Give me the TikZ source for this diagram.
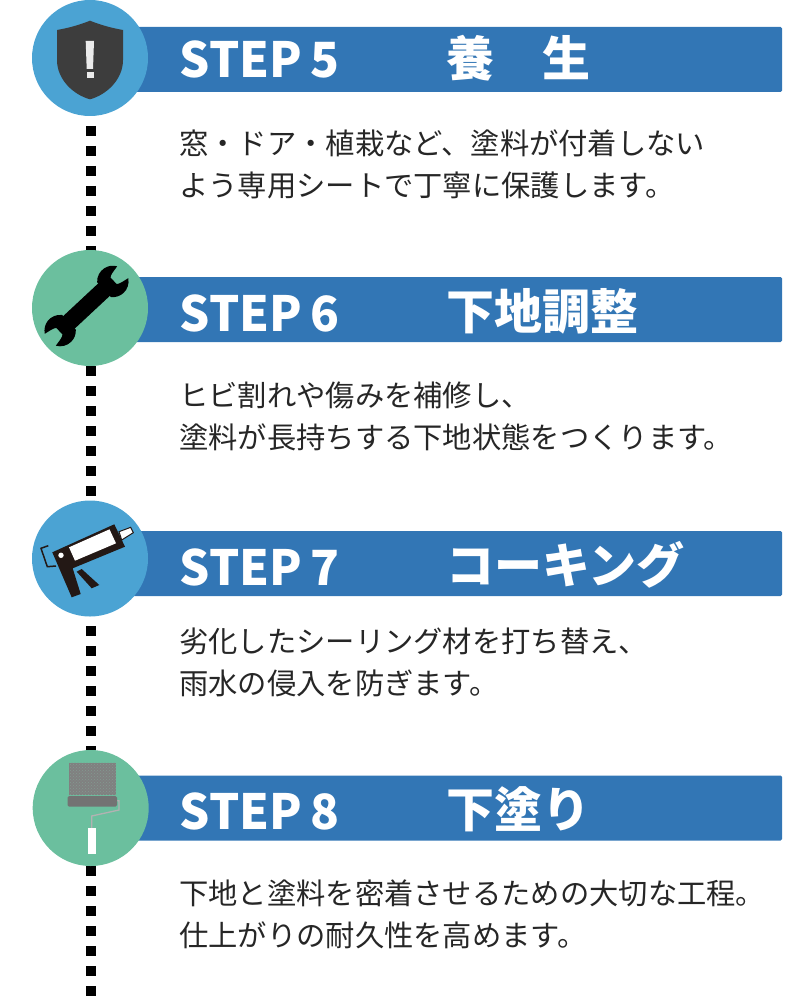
\documentclass[tikz,border=0pt]{standalone}
\usepackage{fontspec}
\setmainfont{Noto Sans CJK JP}
\newfontfamily\labelfont[FakeStretch=0.98]{Noto Sans CJK JP}
\usetikzlibrary{calc,patterns}
\definecolor{barblue}{HTML}{3276B5}
\definecolor{markblue}{HTML}{4BA3D3}
\definecolor{markgreen}{HTML}{6BBF9E}
\definecolor{gundark}{HTML}{231815}
\tikzset{
	bar/.style={fill=barblue,rounded corners=1.5},
	stepmark/.style={circle,inner sep=0,minimum size=116},
	steplabel/.style={anchor=base west,inner sep=0,text=white,font=\fontsize{48.5}{48.5}\labelfont\bfseries},
	steptitle/.style={anchor=base west,inner sep=0,text=white,font=\fontsize{48}{48}\selectfont\bfseries},
	body/.style={anchor=base west,inner sep=0,text=black!85,font=\fontsize{29.3}{29.3}\selectfont},
}
\begin{document}
\begin{tikzpicture}[x=1pt,y=-1pt]
		%%%%% START %%%%%
		\useasboundingbox (0,0) rectangle (800,1000);
		
		\coordinate (dottop) at (91,126);
		\coordinate (dotend) at (91,996);
		\draw[line width=10,dash pattern=on 10 off 10] (dottop) -- (dotend);
		
		\fill[bar] (130,27) rectangle (782,92);
		\fill[bar] (130,277) rectangle (782,342);
		\fill[bar] (130,531) rectangle (782,596);
		\fill[bar] (130,775.5) rectangle (782,840.5);
		
		\node[stepmark,fill=markblue] (mark5) at (90,58) {};
		\node[stepmark,fill=markgreen] (mark6) at (90,308) {};
		\node[stepmark,fill=markblue] (mark7) at (90,558.5) {};
		\node[stepmark,fill=markgreen] (mark8) at (90.7,808) {};
		
		% shield
		\fill[black!76] (90,20.7) .. controls (78,25.5) and (68,28) .. (57,30) -- (57,60)
			.. controls (57,80) and (74,95) .. (90,99.3) .. controls (106,95) and (123,80) .. (123,60)
			-- (123,30) .. controls (112,28) and (102,25.5) .. cycle;
		\fill[white!92!black] (85.7,41) -- (94,41) -- (93,69) -- (86.7,69) -- cycle;
		\fill[white!92!black] (86.5,72.3) rectangle (93.5,78.3);
		
		% wrench
		\begin{scope}[shift={(86.5,306)},rotate=43]
			\fill (-25,-8.5) rectangle (25,8.5);
			\fill (24,-10.1) arc (-140:-31:15.7) .. controls (44,-7) and (39,-6.5) .. (37,-4.5) -- (37,4.5) .. controls (39,6.5) and (44,7) .. (49.5,8.1) arc (31:140:15.7) -- cycle;
			\fill (-24,-10.1) arc (-40:-149:15.7) .. controls (-44,-7) and (-39,-6.5) .. (-37,-4.5) -- (-37,4.5) .. controls (-39,6.5) and (-44,7) .. (-49.5,8.1) arc (149:40:15.7) -- cycle;
		\end{scope}
		
		% caulking gun
		\draw[gundark,line width=1.5] (48.3,545.7) -- (41,548.3) -- (47.3,566.7) -- (56,566);
		\fill[gundark] (52.3,552.3) -- (114.3,524.3) -- (125,546.7) -- (72.7,568.3) -- (80.7,594) -- (71.7,597.3) -- cycle;
		\fill[gundark] (76.7,571.7) -- (81.7,569) -- (99.3,585) -- (91.7,588.3) -- cycle;
		\fill[white] (69,547.3) -- (109.5,529.3) -- (116,543.3) -- (75,560.7) -- cycle;
		\fill[white] (61,555.3) circle (2.7);
		\draw[gundark,fill=white,line width=1] (119,531.7) -- (130.7,527.3) -- (133.3,532.7) -- (121.7,540) -- cycle;
		
		% roller
		\fill[black!50] (69.3,762.7) rectangle (116,795);
		\fill[pattern=crosshatch dots,pattern color=markgreen!45!black!60] (69.3,762.7) rectangle (116,795);
		\draw[black!30,line width=1.3] (117,800.7) -- (119,800.7) -- (119,810) -- (91.7,816) -- (91.7,829);
		\fill[black!55,rounded corners=1.5] (67.7,796) rectangle (117,806.7);
		\fill[white] (88.3,828.3) rectangle (95.7,854.3);
		
		\node[steplabel] (label5) at (179.5,77.5) {STEP\,5};
		\node[steptitle] (title5) at (446,77) {養　生};
		\node[body] (text5a) at (179,154.5) {窓・ドア・植栽など、塗料が付着しない};
		\node[body] (text5b) at (179,196.5) {よう専用シートで丁寧に保護します。};
		
		\node[steplabel] (label6) at (179.5,331) {STEP\,6};
		\node[steptitle] (title6) at (446,329) {下地調整};
		\node[body] (text6a) at (179,406.5) {ヒビ割れや傷みを補修し、};
		\node[body] (text6b) at (179,448.5) {塗料が長持ちする下地状態をつくります。};
		
		\node[steplabel] (label7) at (179.5,585) {STEP\,7};
		\node[steptitle] (title7) at (446,583) {コーキング};
		\node[body] (text7a) at (179,652.5) {劣化したシーリング材を打ち替え、};
		\node[body] (text7b) at (179,694.5) {雨水の侵入を防ぎます。};
		
		\node[steplabel] (label8) at (179.5,829) {STEP\,8};
		\node[steptitle] (title8) at (446,827) {下塗り};
		\node[body] (text8a) at (179,904.5) {下地と塗料を密着させるための大切な工程。};
		\node[body] (text8b) at (179,946.5) {仕上がりの耐久性を高めます。};
		%%%%% END %%%%%
	\end{tikzpicture}
\end{document}
